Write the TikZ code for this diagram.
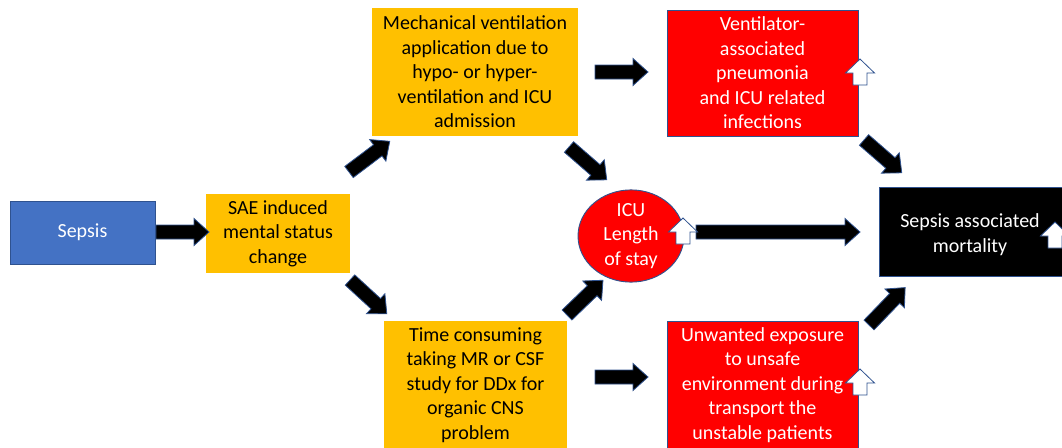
\documentclass[tikz,border=0pt]{standalone}
\usepackage{fontspec}
\setmainfont{Carlito}
\usetikzlibrary{shapes.geometric}
\definecolor{bordblue}{HTML}{2F528F}
\definecolor{fillblue}{HTML}{4472C4}
\definecolor{orangeY}{HTML}{FFC000}
\definecolor{redR}{HTML}{FF0000}
\newcommand\blockarrow[4]{%
  \begin{scope}[shift={(#1,#2)},rotate=#3]
    \draw[blkarrow] (0pt,-7pt) -- ({#4pt-15pt},-7pt) -- ({#4pt-15pt},-13.5pt) -- (#4pt,0pt)
      -- ({#4pt-15pt},13.5pt) -- ({#4pt-15pt},7pt) -- (0pt,7pt) -- cycle;
  \end{scope}}
\newcommand\uparrowmark[2]{%
  \begin{scope}[shift={(#1,#2)}]
    \draw[uparr] (0,0) -- (14.5,14) -- (7,14) -- (7,26) -- (-7,26) -- (-7,14) -- (-14.5,14) -- cycle;
  \end{scope}}
\begin{document}
\begin{tikzpicture}[x=1pt,y=-1pt,
  box/.style={line width=0.9pt, inner sep=0pt, align=center,
    font=\fontsize{20}{24.5}\selectfont},
  bluebox/.style={box, draw=bordblue, fill=fillblue, text=white},
  orangebox/.style={box, fill=orangeY, text=black},
  redbox/.style={box, draw=bordblue, fill=redR, text=white},
  blackbox/.style={box, draw=bordblue, fill=black, text=white},
  blkarrow/.style={fill=black, draw=bordblue, line width=0.8pt, line join=miter},
  uparr/.style={fill=white, draw=bordblue, line width=0.8pt}]
\path[use as bounding box, clip] (0,0) rectangle (1062,447);

\node[bluebox, minimum width=145pt, minimum height=63pt] (sepsis) at (82.5,232.5) {Sepsis};
\node[orangebox, minimum width=144pt, minimum height=79pt] (sae) at (278,233.5)
  {SAE induced\\mental status\\change};
\node[orangebox, minimum width=206pt, minimum height=128pt] (mech) at (475,72)
  {Mechanical ventilation\\application due to\\hypo- or hyper-\\ventilation and ICU\\admission};
\node[orangebox, minimum width=183pt, minimum height=128pt] (time) at (475.5,385)
  {Time consuming\\taking MR or CSF\\study for DDx for\\organic CNS\\problem};
\node[redbox, minimum width=191pt, minimum height=126pt] (vap) at (762.5,73)
  {Ventilator-\\associated\\pneumonia\\and ICU related\\infections};
\node[redbox, minimum width=191pt, minimum height=128pt] (unw) at (762.5,385)
  {Unwanted exposure\\to unsafe\\environment during\\transport the\\unstable patients};
\node[redbox, ellipse, minimum width=106pt, minimum height=92pt] (icu) at (631,236)
  {ICU\\Length\\of stay};
\node[blackbox, minimum width=185pt, minimum height=89pt] (mort) at (971.5,231.5) {};
\node[box, text=white] (morttext) at (970,234.5) {Sepsis associated\\mortality};

% block arrows
\blockarrow{156}{232}{0}{53}
\blockarrow{349}{172}{37}{51}
\blockarrow{350}{280}{-42.6}{50}
\blockarrow{595}{72}{0}{53}
\blockarrow{569}{147}{-41}{50}
\blockarrow{567}{315}{44}{50}
\blockarrow{696}{232}{0}{164}
\blockarrow{864}{140}{-41}{50}
\blockarrow{869}{325}{46}{52}
\blockarrow{595}{377}{0}{53}

% small up arrows
\uparrowmark{860}{59}
\uparrowmark{683}{218}
\uparrowmark{1055}{222}
\uparrowmark{860}{369}
\end{tikzpicture}
\end{document}
